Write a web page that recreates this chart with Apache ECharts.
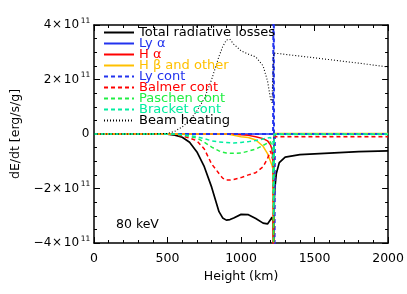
<!DOCTYPE html>
<html><head><meta charset="utf-8">
<script src="https://cdn.jsdelivr.net/npm/echarts@6/dist/echarts.min.js"></script>
<style>html,body{margin:0;padding:0;background:#fff}#c{width:407px;height:294px}</style>
</head><body><div id="c"></div>
<script>
// Heights (km) shared by all series; values in units of 1e11 erg/s/g
const heights = [0,400,500,550,600,650,700,750,800,850,875,900,925,950,1000,1050,1100,1150,1180,1200,1210,1218,1222,1226,1230,1240,1260,1300,1400,1600,1800,2000];
const totalLosses = [0,0,-0.01,-0.04,-0.12,-0.3,-0.66,-1.2,-1.95,-2.85,-3.08,-3.16,-3.14,-3.08,-2.95,-2.96,-3.1,-3.27,-3.3,-3.15,-3.05,-3.2,-4.6,-2.4,-2.0,-1.45,-1.05,-0.85,-0.76,-0.7,-0.65,-0.62];
const lyAlpha     = [0,0,0,0,0,0,0,0,0,0,0,0,0,0,0,0,0,0,0,0,0,0,0,0,0,0,0,0,0,0,0,0];
const hAlpha      = [0,0,0,0,0,0,0,0,0,0,0,0,-0.005,-0.01,-0.03,-0.05,-0.1,-0.17,-0.25,-0.4,-0.55,-1.0,-6,0,0,0,0,0,0,0,0,0];
const hBetaOther  = [0,0,0,0,0,0,0,0,0,0,0,0,-0.02,-0.05,-0.1,-0.13,-0.22,-0.45,-0.72,-1.0,-1.15,-1.3,-6,0.02,0.02,0.02,0.02,0.02,0.02,0.02,0.02,0.02];
const lyCont      = [0,0,0,0,0,0,0,0,0,0,0,0,0,0,0,0,0,0,0,0,0,0,9,-9,0,0,0,0,0,0,0,0];
const balmerCont  = [0,0,0,-0.02,-0.08,-0.15,-0.25,-0.55,-1.1,-1.45,-1.62,-1.69,-1.69,-1.67,-1.6,-1.5,-1.42,-1.2,-0.9,-0.62,-0.55,-1.0,-6,-0.1,-0.1,-0.1,-0.1,-0.1,-0.1,-0.1,-0.1,-0.1];
const paschenCont = [0,0,0,-0.01,-0.04,-0.09,-0.15,-0.3,-0.48,-0.62,-0.67,-0.7,-0.71,-0.71,-0.7,-0.63,-0.55,-0.42,-0.33,-0.28,-0.3,-0.6,-4,-0.02,-0.02,-0.02,-0.02,-0.02,-0.02,-0.02,-0.02,-0.02];
const bracketCont = [0,0,0,0,-0.03,-0.06,-0.1,-0.17,-0.25,-0.29,-0.3,-0.31,-0.32,-0.33,-0.31,-0.28,-0.24,-0.18,-0.15,-0.13,-0.15,-0.3,-3,0,0,0,0,0,0,0,0,0];
const beamHeating = [0,0,0.02,0.1,0.26,0.5,0.85,1.3,2.0,2.85,3.2,3.45,3.47,3.3,3.05,2.93,2.83,2.5,1.95,1.3,1.15,1.15,2.97,2.97,2.96,2.96,2.95,2.92,2.86,2.73,2.6,2.46];
const xTicks = [0,500,1000,1500,2000];
const yTicks = [-4,-2,0,2,4];

const FONT = 'DejaVu Sans';
const defs = [
  ['Total radiative losses', totalLosses, '#000000', 'solid', 1.7],
  ['Ly \u03b1', lyAlpha, '#2233ee', 'solid', 1.5],
  ['H \u03b1', hAlpha, '#ff0000', 'solid', 1.5],
  ['H \u03b2 and other', hBetaOther, '#ffc000', 'solid', 1.5],
  ['Ly cont', lyCont, '#2233ee', [4,3], 2],
  ['Balmer cont', balmerCont, '#ff0000', [4,3], 1.5],
  ['Paschen cont', paschenCont, '#22ee44', [4,3], 1.5],
  ['Bracket cont', bracketCont, '#00eea0', [4,3], 1.5],
  ['Beam heating', beamHeating, '#000000', [1,2], 1.1]
];
const series = defs.map(([name, vals, color, type, w]) => ({
  name, type: 'line', symbol: 'none', showSymbol: false, clip: true, animation: false,
  data: heights.map((h, i) => [h, vals[i]]),
  lineStyle: { color, type, width: w }, itemStyle: { color }
}));

function yFmt(v) {
  if (v === 0) return '{z|0}';
  const n = v < 0 ? '{m|\u2212}{n|' + Math.abs(v) + '}' : '{n|' + v + '}';
  return n + '{x|\u00d7}{t|10}{s|11}';
}
const lab = { fontFamily: FONT, fontSize: 12, color: '#000' };
const tickStyle = { color: '#000', width: 1 };
function axisBase(splitNumber) {
  return {
    axisLine: { show: true, onZero: false, lineStyle: { color: '#000', width: 1.5 } },
    axisTick: { show: true, inside: true, length: 6, lineStyle: tickStyle },
    minorTick: { show: true, splitNumber, length: 3, lineStyle: tickStyle },
    splitLine: { show: false }, minorSplitLine: { show: false }
  };
}
const chart = echarts.init(document.getElementById('c'), null, { renderer: 'canvas' });
chart.setOption({
  animation: false,
  backgroundColor: '#fff',
  grid: { left: 94, right: 16, top: 25, bottom: 51 },
  legend: {
    orient: 'vertical', left: 103, top: 26, padding: 0, itemWidth: 30, itemHeight: 10, itemGap: -2,
    itemStyle: { opacity: 0 },
    textStyle: { fontFamily: FONT, fontSize: 13 },
    data: defs.map(d => ({ name: d[0], textStyle: { color: d[2] } })),
    selectedMode: false
  },
  xAxis: [
    Object.assign({ type: 'value', position: 'bottom', min: xTicks[0], max: xTicks[xTicks.length-1], interval: 500,
      axisLabel: { fontFamily: FONT, fontSize: 12.5, color: '#000', margin: 9, formatter: v => String(v) },
      name: 'Height (km)', nameLocation: 'middle', nameGap: 26,
      nameTextStyle: { fontFamily: FONT, fontSize: 12.5, color: '#000' } }, axisBase(5)),
    Object.assign({ type: 'value', position: 'top', min: 0, max: 2000, interval: 500,
      axisLabel: { show: false } }, axisBase(5))
  ],
  yAxis: [
    Object.assign({ type: 'value', position: 'left', min: yTicks[0], max: yTicks[yTicks.length-1], interval: 2,
      axisLabel: { formatter: yFmt, margin: 4, color: '#000',
        rich: {
          z: Object.assign({ width: 9, align: 'center' }, lab),
          m: Object.assign({ width: 9, align: 'center' }, lab),
          n: Object.assign({ width: 9, align: 'center' }, lab),
          x: Object.assign({ width: 10, align: 'center' }, lab),
          t: Object.assign({ width: 19, align: 'center' }, lab),
          s: { fontFamily: FONT, fontSize: 7.5, color: '#000', width: 9, align: 'center', padding: [0,0,8,0] } } },
      name: 'dE/dt [erg/s/g]', nameLocation: 'middle', nameGap: 66, nameRotate: 90,
      nameTextStyle: { fontFamily: FONT, fontSize: 12.5, color: '#000' } }, axisBase(4)),
    Object.assign({ type: 'value', position: 'right', min: -4, max: 4, interval: 2,
      axisLabel: { show: false } }, axisBase(4))
  ],
  graphic: [{ type: 'text', left: 116, top: 218,
    style: { text: '80 keV', fontFamily: FONT, fontSize: 12.5, fill: '#000' } }],
  series
});
</script></body></html>
